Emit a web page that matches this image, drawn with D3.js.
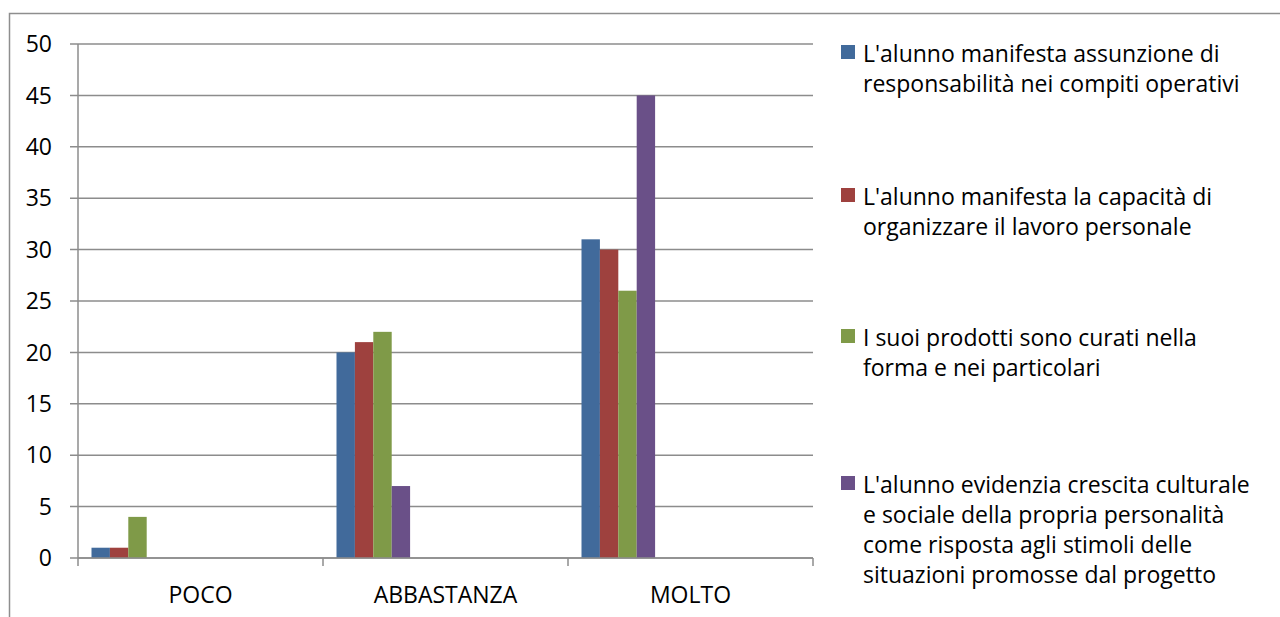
<!DOCTYPE html>
<html>
<head>
<meta charset="utf-8">
<script src="https://cdn.jsdelivr.net/npm/d3@7"></script>
<style>
  body { margin: 0; background: #fff; }
  svg { display: block; }
</style>
</head>
<body>
<div id="chart"></div>
<script>
// chart data
var categories = ["POCO", "ABBASTANZA", "MOLTO"];
var seriesNames = [
  "L'alunno manifesta assunzione di responsabilità nei compiti operativi",
  "L'alunno manifesta la capacità di organizzare il lavoro personale",
  "I suoi prodotti sono curati nella forma e nei particolari",
  "L'alunno evidenzia crescita culturale e sociale della propria personalità come risposta agli stimoli delle situazioni promosse dal progetto"
];
// legend lines as they wrap in the picture
var legendLines = [
  ["L'alunno manifesta assunzione di", "responsabilità nei compiti operativi"],
  ["L'alunno manifesta la capacità di", "organizzare il lavoro personale"],
  ["I suoi prodotti sono curati nella", "forma e nei particolari"],
  ["L'alunno evidenzia crescita culturale", "e sociale della propria personalità",
   "come risposta agli stimoli delle", "situazioni promosse dal progetto"]
];
var seriesValues = [
  [1, 20, 31],
  [1, 21, 30],
  [4, 22, 26],
  [0, 7, 45]
];
var yTicks = [0, 5, 10, 15, 20, 25, 30, 35, 40, 45, 50];
var seriesColors = ["#416a9b", "#9e413e", "#7f9a48", "#6a5088"];

const W = 1280, H = 617;
const fontFam = "'Open Sans', sans-serif";
const fs = 23;

const svg = d3.select("#chart").append("svg")
    .attr("width", W)
    .attr("height", H);

// outer chart border (runs off the page right and bottom)
svg.append("rect")
    .attr("x", 9.5).attr("y", 13.5)
    .attr("width", W + 20).attr("height", H + 20)
    .attr("fill", "none")
    .attr("stroke", "#8e8e8e")
    .attr("stroke-width", 1.5);

const x = d3.scaleBand()
    .domain(categories)
    .range([78, 813]);
const y = d3.scaleLinear()
    .domain([0, 50])
    .range([558, 44]);
// bars sit at the left of each category slot
const xs = d3.scaleBand()
    .domain(d3.range(seriesNames.length))
    .range([13.5, 13.5 + 4 * 18.4]);

// gridlines + y ticks
svg.append("g")
    .selectAll("line")
    .data(yTicks)
    .join("line")
    .attr("x1", 70).attr("x2", 813)
    .attr("y1", d => y(d)).attr("y2", d => y(d))
    .attr("stroke", "#8c8c8c")
    .attr("stroke-width", 1.5);

svg.append("g")
    .selectAll("text")
    .data(yTicks)
    .join("text")
    .attr("x", 52)
    .attr("y", d => y(d))
    .attr("dy", "0.36em")
    .attr("text-anchor", "end")
    .attr("font-family", fontFam)
    .attr("font-size", fs)
    .attr("fill", "#000")
    .text(d => d);

// bars
seriesValues.forEach((vals, si) => {
    svg.append("g")
        .selectAll("rect")
        .data(vals)
        .join("rect")
        .attr("x", (d, i) => x(categories[i]) + xs(si))
        .attr("y", d => y(d))
        .attr("width", xs.bandwidth())
        .attr("height", d => y(0) - y(d))
        .attr("fill", seriesColors[si]);
});

// y axis line
svg.append("line")
    .attr("x1", 78).attr("x2", 78)
    .attr("y1", y(50)).attr("y2", y(0))
    .attr("stroke", "#8c8c8c")
    .attr("stroke-width", 1.5);

// x axis line and category ticks
svg.append("line")
    .attr("x1", 78).attr("x2", 813)
    .attr("y1", y(0)).attr("y2", y(0))
    .attr("stroke", "#8c8c8c")
    .attr("stroke-width", 1.5);
const bounds = categories.map(c => x(c)).concat([x.range()[1]]);
svg.append("g")
    .selectAll("line")
    .data(bounds)
    .join("line")
    .attr("x1", d => d).attr("x2", d => d)
    .attr("y1", y(0)).attr("y2", y(0) + 8)
    .attr("stroke", "#8c8c8c")
    .attr("stroke-width", 1.5);

svg.append("g")
    .selectAll("text")
    .data(categories)
    .join("text")
    .attr("x", d => x(d) + x.bandwidth() / 2)
    .attr("y", 603)
    .attr("text-anchor", "middle")
    .attr("font-family", fontFam)
    .attr("font-size", fs)
    .attr("fill", "#000")
    .text(d => d);

// legend
var legendTop = [62, 205, 346, 493];
const lineH = 30;
const legend = svg.append("g");
legendLines.forEach((lines, i) => {
    const g = legend.append("g");
    g.append("rect")
        .attr("x", 841)
        .attr("y", legendTop[i] - 17)
        .attr("width", 14)
        .attr("height", 14)
        .attr("fill", seriesColors[i]);
    g.selectAll("text")
        .data(lines)
        .join("text")
        .attr("x", 863)
        .attr("y", (d, j) => legendTop[i] + j * lineH)
        .attr("font-family", fontFam)
        .attr("font-size", fs)
        .attr("fill", "#000")
        .text(d => d);
});
</script>
</body>
</html>
